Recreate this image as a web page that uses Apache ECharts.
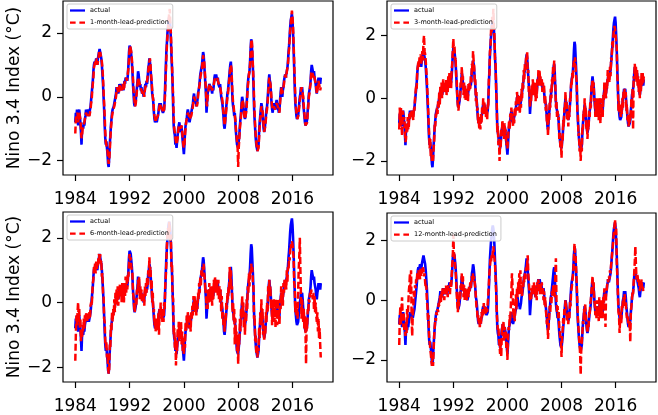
<!DOCTYPE html>
<html><head><meta charset="utf-8">
<script src="https://cdn.jsdelivr.net/npm/echarts@6/dist/echarts.min.js"></script>
<style>html,body{margin:0;padding:0;background:#fff}#c{width:658px;height:415px}</style>
</head><body><div id="c"></div>
<script>
const startYear = 1984;
const xTicks = [1984, 1992, 2000, 2008, 2016];
const yTicks = [-2, 0, 2];
const actualName = 'actual';
const leadNames = ['1-month-lead-prediction', '3-month-lead-prediction', '6-month-lead-prediction', '12-month-lead-prediction'];

// monthly values, Jan 1984 .. Mar 2020
const actual = [
-0.8,-0.5,-0.7,-0.4,-0.6,-0.9,-0.5,-0.4,-0.6,-0.8,-1.1,-1.5,
-1.0,-0.9,-1.0,-0.8,-0.9,-0.7,-0.6,-0.4,-0.6,-0.5,-0.4,-0.5,
-0.6,-0.5,-0.4,-0.3,-0.1,0.1,0.3,0.5,0.8,1.0,1.1,1.0,
1.1,1.2,1.1,1.0,1.2,1.3,1.4,1.5,1.5,1.3,1.2,1.0,
0.7,0.4,0.0,-0.4,-0.9,-1.3,-1.5,-1.4,-1.6,-1.8,-2.1,-2.2,
-1.9,-1.5,-1.2,-0.9,-0.7,-0.5,-0.4,-0.4,-0.3,-0.2,-0.1,0.0,
0.1,0.3,0.2,0.3,0.1,0.2,0.4,0.3,0.4,0.3,0.2,0.4,
0.3,0.2,0.3,0.5,0.4,0.6,0.5,0.6,0.5,0.7,1.0,1.4,
1.6,1.6,1.5,1.3,1.1,0.8,0.4,0.1,-0.2,-0.3,-0.3,-0.1,
0.1,0.3,0.5,0.8,0.7,0.5,0.3,0.4,0.2,0.3,0.1,0.2,
0.2,0.0,0.1,0.3,0.4,0.3,0.5,0.4,0.6,0.9,1.0,1.2,
1.1,0.9,0.6,0.4,0.1,0.0,-0.2,-0.5,-0.7,-0.8,-0.8,-0.7,
-0.8,-0.7,-0.6,-0.5,-0.3,-0.2,-0.3,-0.2,-0.3,-0.4,-0.4,-0.5,
-0.5,-0.4,-0.1,0.4,0.9,1.4,1.7,2.0,2.2,2.4,2.5,2.4,
2.2,1.8,1.3,0.9,0.4,-0.3,-0.9,-1.1,-1.2,-1.5,-1.4,-1.6,
-1.4,-1.2,-1.0,-0.9,-0.8,-1.0,-1.1,-0.9,-1.0,-1.2,-1.4,-1.6,
-1.8,-1.5,-1.1,-0.9,-0.8,-0.7,-0.5,-0.4,-0.5,-0.7,-0.8,-0.7,
-0.6,-0.5,-0.4,-0.3,-0.2,0.0,0.1,-0.1,-0.2,-0.1,-0.3,-0.2,
-0.1,0.1,0.2,0.3,0.5,0.7,0.8,0.9,1.0,1.2,1.4,1.3,
1.0,0.7,0.4,0.1,-0.5,-0.2,0.1,0.2,0.3,0.4,0.4,0.3,
0.3,0.2,0.1,0.3,0.2,0.4,0.6,0.7,0.6,0.7,0.6,0.5,
0.6,0.4,0.4,0.3,0.4,0.2,0.0,-0.1,-0.2,-0.4,-0.6,-0.9,
-1.0,-0.8,-0.5,-0.3,-0.1,0.1,0.2,0.4,0.6,0.8,1.0,1.1,
0.8,0.3,-0.1,-0.3,-0.4,-0.6,-0.5,-0.8,-1.1,-1.3,-1.5,-1.5,
-1.6,-1.4,-1.2,-0.9,-0.7,-0.5,-0.2,0.0,-0.1,-0.3,-0.5,-0.6,
-0.7,-0.6,-0.4,-0.2,0.1,0.4,0.6,0.7,0.8,1.1,1.5,1.8,
1.7,1.3,0.9,0.4,-0.3,-0.7,-1.0,-1.3,-1.5,-1.6,-1.7,-1.6,
-1.5,-1.1,-0.8,-0.6,-0.4,-0.2,-0.3,-0.5,-0.8,-1.0,-1.1,-1.0,
-0.8,-0.6,-0.4,-0.3,-0.1,0.2,0.5,0.7,0.5,0.4,0.1,-0.2,
-0.4,-0.5,-0.3,-0.2,-0.4,-0.3,-0.4,-0.2,-0.1,-0.3,-0.2,-0.4,
-0.5,-0.4,-0.1,0.1,0.3,0.2,0.0,0.2,0.3,0.5,0.6,0.7,
0.6,0.7,0.8,0.9,1.1,1.4,1.6,1.9,2.2,2.4,2.5,2.6,
2.4,2.0,1.5,0.9,0.3,-0.2,-0.4,-0.6,-0.7,-0.7,-0.6,-0.4,
-0.2,0.0,0.1,0.3,0.2,0.3,0.1,-0.2,-0.4,-0.6,-0.8,-0.9,
-0.9,-0.8,-0.7,-0.4,-0.2,0.1,0.2,0.3,0.5,0.8,1.0,0.9,
0.8,0.7,0.8,0.6,0.5,0.4,0.2,0.1,0.3,0.4,0.6,0.5,
0.6,0.4,0.6
];

const lead1 = [
-1.15,-0.7,-0.6,-0.6,-0.5,-0.8,-0.7,-0.5,-0.5,-0.7,-1.0,-1.3,
-1.2,-1.0,-0.9,-0.9,-0.8,-0.8,-0.6,-0.5,-0.5,-0.6,-0.5,-0.5,
-0.5,-0.6,-0.5,-0.4,-0.2,-0.1,0.2,0.4,0.6,0.9,1.0,1.1,
1.0,1.1,1.2,1.0,1.1,1.2,1.4,1.3,1.4,1.4,1.2,1.1,
0.9,0.6,0.2,-0.2,-0.6,-1.1,-1.4,-1.5,-1.5,-1.7,-1.9,-2.1,
-2.0,-1.7,-1.3,-1.0,-0.8,-0.6,-0.5,-0.4,-0.4,-0.3,-0.2,-0.1,
0.0,0.2,0.3,0.2,0.2,0.1,0.3,0.4,0.3,0.3,0.2,0.3,
0.4,0.3,0.2,0.4,0.5,0.5,0.6,0.5,0.6,0.6,0.9,1.2,
1.5,1.6,1.5,1.4,1.2,0.9,0.6,0.2,0.0,-0.2,-0.3,-0.2,
0.0,0.2,0.4,0.6,0.6,0.6,0.4,0.3,0.3,0.2,0.2,0.1,
0.2,0.1,0.0,0.2,0.3,0.4,0.4,0.5,0.5,0.8,1.0,1.1,
1.2,1.0,0.7,0.5,0.2,0.0,-0.1,-0.4,-0.6,-0.7,-0.8,-0.7,
-0.7,-0.7,-0.6,-0.5,-0.4,-0.3,-0.2,-0.3,-0.3,-0.3,-0.4,-0.4,
-0.5,-0.4,-0.2,0.2,0.7,1.2,1.6,1.9,2.1,2.4,2.6,2.75,
2.3,2.0,1.5,1.0,0.5,0.0,-0.6,-1.0,-1.1,-1.3,-1.4,-1.5,
-1.5,-1.3,-1.1,-0.9,-0.9,-0.9,-1.0,-1.0,-0.9,-1.1,-1.3,-1.5,
-1.6,-1.5,-1.2,-1.0,-0.8,-0.7,-0.6,-0.5,-0.5,-0.6,-0.7,-0.7,
-0.7,-0.6,-0.5,-0.4,-0.3,-0.1,0.0,0.0,-0.1,-0.2,-0.2,-0.3,
-0.2,0.0,0.2,0.3,0.4,0.6,0.7,0.8,0.9,1.1,1.3,1.3,
1.1,0.8,0.5,0.2,-0.2,-0.3,0.0,0.1,0.3,0.3,0.4,0.4,
0.3,0.3,0.2,0.2,0.3,0.3,0.5,0.6,0.6,0.6,0.6,0.6,
0.5,0.5,0.4,0.4,0.3,0.3,0.1,0.0,-0.1,-0.3,-0.5,-0.7,
-0.9,-0.9,-0.6,-0.4,-0.2,0.0,0.1,0.3,0.5,0.7,0.9,1.0,
0.9,0.5,0.1,-0.2,-0.3,-0.5,-0.6,-0.7,-1.0,-1.2,-1.4,-1.6,
-2.2,-1.6,-1.3,-1.0,-0.8,-0.6,-0.3,-0.1,-0.1,-0.2,-0.4,-0.6,
-0.7,-0.7,-0.5,-0.3,0.0,0.3,0.5,0.7,0.8,1.0,1.4,1.7,
1.8,1.5,1.0,0.6,0.0,-0.5,-0.9,-1.2,-1.4,-1.6,-1.7,-1.7,
-1.6,-1.3,-0.9,-0.7,-0.5,-0.3,-0.3,-0.4,-0.7,-0.9,-1.1,-1.1,
-0.9,-0.7,-0.5,-0.4,-0.2,0.1,0.4,0.6,0.5,0.4,0.2,-0.1,
-0.3,-0.4,-0.4,-0.3,-0.3,-0.4,-0.3,-0.3,-0.2,-0.2,-0.3,-0.3,
-0.4,-0.5,-0.2,0.0,0.2,0.3,0.1,0.1,0.3,0.4,0.6,0.6,
0.7,0.6,0.8,0.9,1.0,1.3,1.5,1.8,2.1,2.3,2.5,2.7,
2.5,2.2,1.7,1.1,0.5,0.0,-0.3,-0.5,-0.6,-0.7,-0.7,-0.5,
-0.3,-0.1,0.0,0.2,0.3,0.2,0.2,0.0,-0.3,-0.5,-0.7,-0.9,
-0.9,-0.9,-0.8,-0.5,-0.3,0.0,0.1,0.3,0.4,0.7,0.8,0.8,
0.7,0.6,0.7,0.6,0.5,0.4,0.3,0.1,0.2,0.3,0.5,0.4,
0.3,0.2,0.3
];

const lead3 = [
-1.0,-0.3,-0.9,-0.3,-0.8,-1.2,-0.4,-0.5,-0.7,-0.6,-1.0,-1.4,
-1.3,-0.8,-1.1,-0.6,-1.0,-0.9,-0.5,-0.7,-0.4,-0.6,-0.4,-0.6,
-0.5,-0.7,-0.3,-0.4,0.0,0.0,0.4,0.3,0.9,1.0,1.2,1.0,
1.3,1.1,1.4,1.1,1.3,1.5,1.2,1.8,2.0,1.5,1.4,1.2,
0.9,0.6,0.2,-0.2,-0.7,-1.1,-1.6,-1.3,-1.9,-1.7,-2.0,-1.9,
-2.0,-1.6,-1.4,-0.8,-0.9,-0.5,-0.6,-0.3,-0.5,-0.1,-0.3,0.2,
-0.2,0.4,0.1,0.5,0.0,0.3,0.6,0.2,0.5,0.2,0.4,0.6,
0.1,0.4,0.2,0.7,0.3,0.8,0.4,0.7,0.3,0.9,1.1,1.5,
1.9,1.5,1.7,1.2,1.3,0.7,0.6,0.0,0.0,-0.4,-0.2,0.1,
0.0,0.5,0.4,1.0,0.6,0.7,0.1,0.5,0.0,0.4,-0.1,0.3,
0.1,0.2,-0.1,0.5,0.2,0.5,0.3,0.7,0.5,1.1,0.9,1.5,
1.2,1.0,0.5,0.6,-0.1,0.2,-0.4,-0.3,-0.8,-0.6,-1.0,-0.6,
-1.0,-0.5,-0.8,-0.3,-0.5,0.0,-0.4,-0.1,-0.5,-0.3,-0.6,-0.3,
-0.7,-0.2,-0.3,0.6,0.7,1.5,1.6,2.2,2.1,2.6,2.4,2.85,
2.3,2.0,1.2,1.1,0.2,-0.1,-1.1,-0.9,-1.5,-1.3,-2.0,-1.4,
-1.6,-1.0,-1.2,-0.7,-1.0,-0.8,-1.3,-0.8,-1.2,-1.0,-1.5,-1.4,
-1.6,-1.3,-1.3,-0.7,-1.0,-0.5,-0.7,-0.3,-0.6,-0.5,-0.9,-0.6,
-0.8,-0.3,-0.6,-0.1,-0.4,0.2,-0.1,0.1,-0.4,0.1,-0.5,0.0,
-0.3,0.3,0.0,0.5,0.3,0.9,0.6,1.1,0.9,1.3,1.2,1.5,
0.8,0.9,0.2,0.3,-0.3,0.0,-0.1,0.4,0.1,0.6,0.2,0.5,
0.1,0.4,-0.1,0.5,0.0,0.6,0.4,0.9,0.4,0.9,0.5,0.7,
0.4,0.6,0.2,0.5,0.2,0.4,-0.2,0.1,-0.4,-0.2,-0.8,-0.7,
-1.2,-0.6,-0.7,-0.1,-0.3,0.3,0.0,0.6,0.4,1.0,0.8,1.2,
0.6,0.5,-0.3,-0.1,-0.6,-0.4,-0.7,-0.6,-1.3,-1.1,-1.6,-1.4,
-1.9,-1.2,-1.4,-0.7,-0.9,-0.3,-0.4,0.2,-0.3,-0.1,-0.7,-0.4,
-0.9,-0.4,-0.6,0.0,-0.1,0.5,0.4,0.8,0.6,1.0,1.2,1.0,
1.3,1.0,0.7,0.5,-0.4,-0.5,-1.2,-1.1,-1.7,-1.4,-2.0,-1.5,
-1.7,-0.9,-1.0,-0.4,-0.6,0.0,-0.5,-0.3,-1.0,-0.8,-1.3,-0.9,
-1.0,-0.4,-0.6,-0.1,-0.3,0.4,0.3,0.6,0.3,0.5,-0.1,0.0,
-0.6,-0.3,-0.5,0.0,-0.6,-0.1,-0.7,0.0,-0.3,-0.8,0.0,-0.6,
-0.3,-0.6,0.1,-0.1,0.5,0.0,0.2,0.0,0.5,0.3,0.9,0.5,
0.8,0.5,1.0,0.7,1.3,1.2,1.8,1.6,2.0,2.2,2.3,2.2,
2.2,1.8,1.6,0.7,0.4,-0.4,-0.1,-0.5,-0.3,-0.6,-0.2,-0.5,
0.0,-0.3,0.2,0.1,0.3,0.0,0.2,-0.4,-0.2,-0.7,-0.5,-0.9,
-0.6,-0.8,-0.5,-0.6,0.0,-0.3,0.3,-1.0,0.7,0.6,1.1,0.7,
1.0,0.5,0.9,0.4,0.7,0.2,0.5,0.0,0.6,0.2,0.8,0.4,
0.8,0.5,0.7
];

const lead6 = [
-1.8,-1.0,-0.4,-0.7,-0.3,0.0,-0.6,-0.2,-0.8,-0.5,-1.2,-0.9,
-1.1,-0.7,-0.9,-0.5,-0.8,-0.4,-0.6,-0.3,-0.5,-0.6,-0.4,-0.3,
-0.5,-0.3,-0.5,-0.1,0.0,-0.1,0.2,0.6,0.7,1.1,1.0,1.2,
0.9,1.3,1.0,1.2,1.1,1.4,1.5,1.3,1.5,1.2,1.3,0.8,
0.9,0.3,0.2,-0.5,-0.6,-1.2,-1.4,-1.2,-1.7,-1.6,-2.0,-2.2,
-2.1,-1.3,-1.4,-0.7,-0.9,-0.3,-0.6,-0.2,-0.4,0.1,-0.3,0.3,
-0.1,0.4,0.0,0.5,-0.1,0.4,0.2,0.6,0.2,0.5,0.0,0.6,
0.1,0.5,0.0,0.6,0.2,0.8,0.3,0.7,0.4,0.9,0.8,1.2,
1.5,1.3,1.4,1.1,1.0,0.9,0.3,0.2,-0.1,-0.3,-0.1,0.1,
-0.1,0.4,0.3,0.7,0.5,0.8,0.1,0.5,0.1,0.4,0.0,0.3,
0.0,0.3,-0.1,0.5,0.2,0.6,0.3,0.8,0.5,1.0,0.8,1.4,
1.0,1.1,0.4,0.7,0.0,0.3,-0.3,-0.2,-0.7,-0.5,-0.9,-0.6,
-0.8,-0.5,-0.9,-0.3,-1.0,-0.2,-0.4,0.0,-0.5,-0.2,-0.6,-0.3,
-0.6,0.0,-0.2,0.5,0.8,1.2,1.8,1.8,2.3,2.0,2.5,2.3,
1.9,2.1,1.1,1.2,0.2,0.1,-1.0,-0.8,-1.4,-1.1,-1.95,-1.2,
-1.5,-0.8,-1.1,-0.6,-1.2,-0.7,-1.1,-0.6,-1.3,-0.9,-1.5,-1.2,
-1.6,-1.1,-1.4,-0.6,-0.9,-0.4,-0.8,-0.3,-0.6,-0.4,-0.8,-0.5,
-0.9,-0.3,-0.5,-0.1,-0.4,0.2,-0.2,0.2,-0.3,0.1,-0.4,0.0,
-0.2,0.3,0.1,0.6,0.3,0.8,0.5,1.0,0.8,1.1,1.0,1.2,
0.9,0.7,0.3,0.4,-0.2,0.1,-0.2,0.4,0.0,0.6,0.1,0.5,
0.0,0.5,-0.1,0.4,0.1,0.7,0.3,0.8,0.4,0.7,0.3,0.6,
0.2,0.7,0.1,0.5,0.0,0.4,-0.3,0.2,-0.5,-0.3,-0.7,-0.5,
-0.9,-0.4,-0.6,0.0,-0.2,0.3,0.1,0.5,0.3,1.1,0.6,1.0,
0.4,0.5,-0.3,0.0,-0.6,-0.2,-1.3,-0.5,-1.2,-0.9,-1.5,-1.2,
-1.9,-1.0,-1.3,-0.5,-0.9,-0.2,-0.5,0.2,-0.4,0.0,-0.8,-0.3,
-1.0,-0.3,-0.6,0.1,-0.2,0.5,0.3,0.9,0.5,1.0,0.9,1.2,
1.0,1.1,0.6,0.5,-0.5,-0.4,-1.2,-1.0,-1.6,-1.3,-1.7,-1.4,
-1.5,-0.8,-1.1,-0.3,-0.7,0.1,-0.6,-0.2,-1.0,-0.7,-1.2,-0.8,
-1.0,-0.3,-0.6,0.0,-0.3,0.5,0.2,0.7,0.2,0.5,-0.2,0.1,
-0.7,-0.2,-0.5,0.1,-0.6,0.0,-0.8,0.1,-0.4,-0.7,0.1,-0.5,
-0.3,-0.7,0.1,-0.2,0.5,-0.1,0.3,-0.1,0.6,0.3,0.7,0.4,
0.7,0.4,1.0,0.6,1.1,1.0,1.4,1.3,1.6,1.8,1.7,1.9,
1.8,1.6,1.4,0.6,0.5,-0.3,0.0,-0.4,-0.2,-0.5,0.3,1.0,
1.4,2.0,1.0,0.2,-0.5,0.1,-0.3,-0.6,-0.2,-0.8,-0.4,-0.9,
-1.9,-0.6,-0.8,-0.2,-0.3,0.1,0.0,0.3,0.2,0.4,0.3,0.2,
0.1,0.3,-0.2,0.2,-0.3,0.0,-0.4,-0.6,-0.3,-0.9,-0.5,-1.1,
-0.8,-1.3,-1.7
];

const lead12 = [
-1.5,-0.6,-0.2,-0.8,-0.3,0.1,-0.5,-0.9,-0.4,-1.0,-0.8,-1.2,
-0.7,-1.1,-0.3,-0.6,-0.2,0.3,0.5,0.9,0.2,1.0,-0.6,-1.2,
-0.5,-0.2,0.3,0.1,0.5,0.4,0.7,0.6,0.9,0.7,1.0,0.8,
0.9,0.7,1.1,0.8,1.0,0.9,1.1,1.0,0.8,0.9,0.6,0.4,
0.5,0.0,-0.2,-0.7,-0.5,-1.2,-1.4,-1.6,-1.8,-2.0,-2.2,-1.9,
-2.2,-1.7,-1.2,-0.9,-0.6,-0.7,-0.4,-0.5,-0.3,-0.4,-0.1,-0.2,
0.0,0.2,-0.1,0.3,0.1,0.4,0.2,0.3,0.0,0.4,0.2,0.5,
0.2,0.4,0.1,0.5,0.3,0.4,0.2,0.6,0.4,0.8,1.2,1.4,
2.2,1.6,1.5,1.2,1.0,0.6,0.2,-0.1,-0.4,0.1,-0.2,0.3,
0.0,0.5,0.3,0.9,0.6,0.8,0.1,0.5,0.0,0.4,0.1,0.3,
0.0,0.2,0.4,0.1,0.5,0.3,0.6,0.4,0.7,0.8,0.6,0.9,
0.7,0.8,0.6,0.4,0.1,-0.2,-0.3,-0.6,-0.5,-0.8,-0.6,-0.9,
-0.6,-0.8,-0.4,-0.6,-0.3,-0.5,-0.1,-0.4,-0.2,-0.5,-0.2,-0.3,
-0.4,-0.1,0.2,0.5,0.9,1.1,1.4,1.3,1.5,1.4,1.6,1.8,
1.5,1.4,1.2,0.7,0.3,-0.4,-0.7,-1.0,-0.9,-1.3,-1.5,-1.8,
-1.3,-1.9,-1.1,-0.8,-1.2,-0.7,-1.4,-0.9,-1.2,-1.0,-1.6,-1.4,
-2.0,-1.3,-0.9,-1.0,-0.5,-0.7,-0.2,0.3,0.9,0.5,-0.2,-0.6,
-0.4,-0.7,-0.2,0.2,-0.3,0.4,0.1,0.6,0.2,0.9,0.3,1.0,
0.2,0.5,0.1,0.6,0.4,0.8,0.6,0.9,0.7,1.1,1.0,1.2,
1.5,0.9,0.6,0.3,0.0,0.2,0.0,0.4,0.2,0.5,0.3,0.6,
0.2,0.5,0.1,0.4,0.0,0.6,0.3,0.7,0.4,0.6,0.2,0.5,
0.3,0.6,0.2,0.4,0.0,0.3,-0.2,0.1,-0.3,-0.5,-0.8,-0.6,
-1.3,-0.9,-0.6,-0.2,-0.4,0.1,-0.1,0.3,0.1,0.5,0.2,0.4,
0.1,0.9,1.4,0.0,-0.4,-0.2,-0.6,-0.4,-0.9,-1.1,-1.3,-1.4,
-1.9,-1.2,-1.0,-0.6,-0.8,-0.3,-0.5,0.0,-0.2,-0.4,-0.7,-0.5,
-0.8,-0.4,-0.6,0.0,-0.2,0.3,0.4,0.6,0.8,1.0,1.4,1.9,
1.6,1.5,1.0,0.5,0.0,-0.6,-0.9,-1.2,-1.5,-1.8,-2.5,-1.6,
-1.4,-1.1,-0.7,-0.8,-0.3,-0.5,-0.1,-0.6,-0.7,-0.9,-1.1,-0.8,
-0.9,-0.4,-0.5,-0.1,0.0,0.3,0.5,0.8,0.3,0.6,0.0,-0.1,
-0.5,-0.2,-0.6,0.0,-0.5,-0.2,-0.7,0.1,-0.4,-0.6,0.0,-0.5,
-0.2,-0.6,0.1,-0.3,0.4,0.0,-0.9,0.2,0.3,0.5,0.7,0.6,
0.8,0.7,1.0,0.9,1.2,1.3,1.7,1.8,2.1,2.3,2.5,2.7,
2.2,2.4,1.3,0.8,0.2,-0.4,-0.5,-1.1,-0.6,-0.4,-0.8,-0.2,
-0.3,0.0,0.1,-0.2,0.2,0.0,-0.1,-0.4,-0.6,-0.5,-0.7,-0.8,
-0.9,-0.7,-1.4,-0.4,-0.2,0.0,0.3,0.2,0.6,0.9,1.3,1.8,
1.2,0.7,0.9,0.8,0.6,0.7,0.5,0.3,0.6,0.4,0.7,0.4,
0.5,0.3,0.3
];

const leads = [lead1, lead3, lead6, lead12];

// layout (pixels) and axis ranges per panel
const panels = [
  { left: 63, top: 1, width: 270, height: 174, ymin: -2.45, ymax: 3.0, yname: true },
  { left: 387, top: 1, width: 269, height: 174, ymin: -2.45, ymax: 3.1, yname: false },
  { left: 63, top: 212, width: 270, height: 175, ymin: -2.46, ymax: 2.80, yname: true },
  { left: 387, top: 213, width: 269, height: 173, ymin: -2.74, ymax: 2.92, yname: false }
];
const xmin = 1982.19, xmax = 2021.97;

const toPairs = arr => arr.map((v, i) => [startYear + i / 12, v]);
const FONT = 'DejaVu Sans';
const minus = v => (v < 0 ? '\u2212' : '') + Math.abs(v);
const ICON_SOLID = 'path://M0,0h16v2.4h-16z';
const ICON_DASH = 'path://M0,0h6v2.4h-6zM10,0h6v2.4h-6z';

const grids = [], xAxes = [], yAxes = [], series = [], legends = [];
panels.forEach((p, k) => {
  grids.push({ left: p.left, top: p.top, width: p.width, height: p.height,
    show: true, borderColor: '#000', borderWidth: 1.2, backgroundColor: '#fff', containLabel: false });
  xAxes.push({ type: 'value', gridIndex: k, min: xmin, max: xmax, position: 'bottom',
    axisLine: { show: false, onZero: false }, splitLine: { show: false },
    axisTick: { show: true, length: 6, lineStyle: { color: '#000', width: 1.2 }, customValues: xTicks },
    axisLabel: { show: true, margin: 16, color: '#000', fontSize: 17, fontFamily: FONT, customValues: xTicks, formatter: v => String(v) } });
  yAxes.push({ type: 'value', gridIndex: k, min: p.ymin, max: p.ymax, position: 'left',
    name: p.yname ? 'Nino 3.4 Index (\u00b0C)' : '', nameLocation: 'middle', nameGap: 40, nameRotate: 90,
    nameTextStyle: { fontSize: 17, fontFamily: FONT, color: '#000' },
    axisLine: { show: false, onZero: false }, splitLine: { show: false },
    axisTick: { show: true, length: 6, lineStyle: { color: '#000', width: 1.2 }, customValues: yTicks },
    axisLabel: { show: true, margin: 11, color: '#000', fontSize: 17, fontFamily: FONT, customValues: yTicks, formatter: minus } });
  series.push({ name: actualName, type: 'line', xAxisIndex: k, yAxisIndex: k, data: toPairs(actual),
    showSymbol: false, symbol: 'none', animation: false, z: 2,
    lineStyle: { color: '#0000ff', width: 2.6 }, itemStyle: { color: '#0000ff' } });
  series.push({ name: leadNames[k], type: 'line', xAxisIndex: k, yAxisIndex: k, data: toPairs(leads[k]),
    showSymbol: false, symbol: 'none', animation: false, z: 3,
    lineStyle: { color: '#ff0000', width: 2.5, type: [7, 3] }, itemStyle: { color: '#ff0000' } });
  legends.push({
    data: [ { name: actualName, icon: ICON_SOLID, itemStyle: { color: '#0000ff' } },
            { name: leadNames[k], icon: ICON_DASH, itemStyle: { color: '#ff0000' } } ],
    orient: 'vertical', left: p.left + 4, top: p.top + 3,
    itemWidth: 15, itemHeight: 2.4, itemGap: 5, padding: [3, 4, 3, 3],
    backgroundColor: 'rgba(255,255,255,0.85)', borderColor: '#cccccc', borderWidth: 1, borderRadius: 2,
    textStyle: { fontSize: 6.5, fontFamily: FONT, color: '#000' },
    selectedMode: false });
});

const chart = echarts.init(document.getElementById('c'), null, { renderer: 'canvas' });
chart.setOption({ animation: false, backgroundColor: '#fff', grid: grids, xAxis: xAxes, yAxis: yAxes, series: series, legend: legends });
</script></body></html>
